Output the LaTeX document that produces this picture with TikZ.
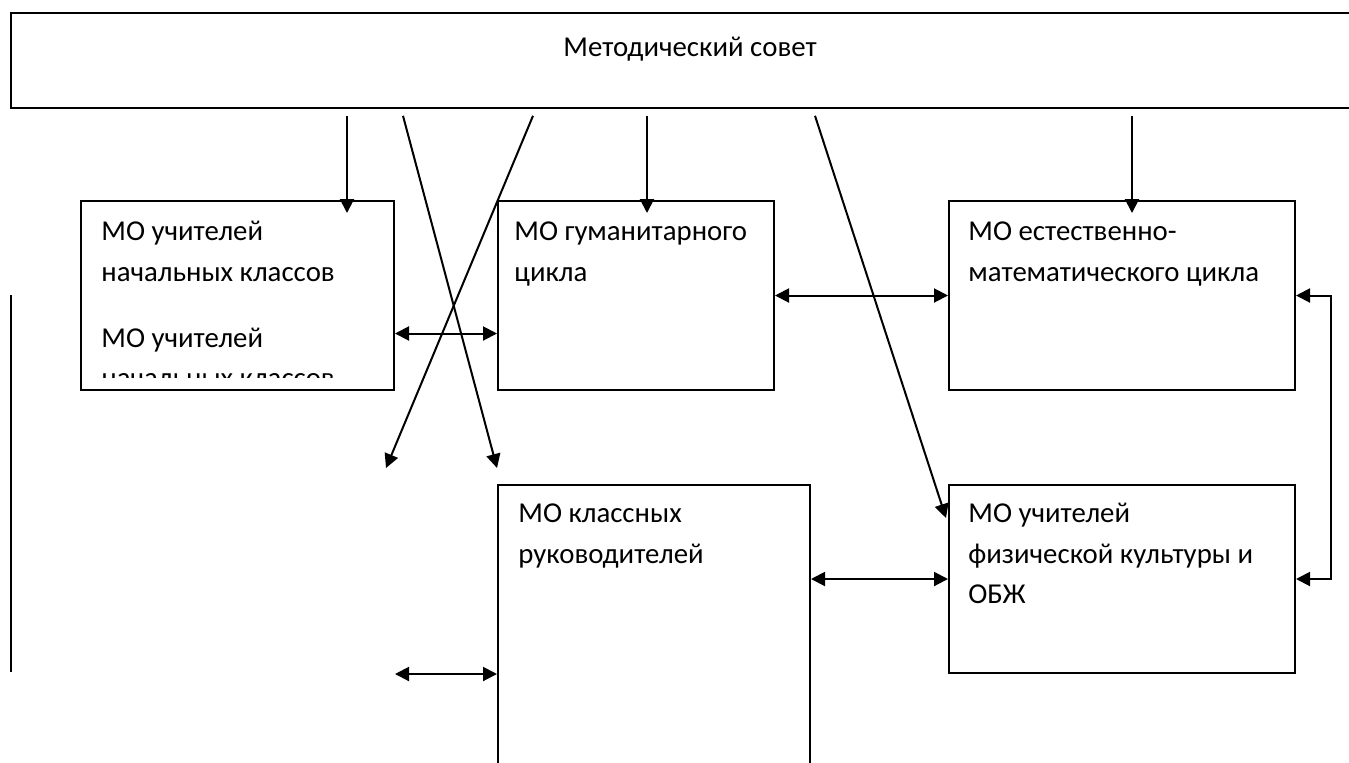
\documentclass[tikz,border=0pt]{standalone}
\usepackage{fontspec}
\setmainfont{Carlito}
\usetikzlibrary{positioning, calc, arrows.meta}

\tikzset{
  box/.style={draw, line width=1pt, inner sep=0pt, anchor=north west},
  txt/.style={anchor=base west, inner sep=0pt, font=\fontsize{14.4}{17}\selectfont},
  tip/.style={-{Triangle[length=7pt,width=7pt]}, line width=1pt},
  tips/.style={{Triangle[length=7pt,width=7pt]}-{Triangle[length=7pt,width=7pt]}, line width=1pt}
}

\begin{document}
\begin{tikzpicture}[x=0.5pt, y=-0.5pt]
  \clip (0,0) rectangle (1349,762);

  % Boxes
  \node[box, minimum width=680pt, minimum height=47.4pt] (sovet) at (10,12) {};
  \node[box, minimum width=156.5pt, minimum height=94.5pt] (nach) at (80,200) {};
  \node[box, minimum width=138pt, minimum height=94.5pt] (gum) at (497,200) {};
  \node[box, minimum width=173pt, minimum height=94.5pt] (est) at (948,200) {};
  \node[box, minimum width=156pt, minimum height=160pt] (klass) at (497,484) {};
  \node[box, minimum width=173pt, minimum height=94pt] (fiz) at (948,484) {};

  % Texts
  \node[txt, anchor=base] (sovettxt) at ($(sovet.north west)+(680,44)$) {Методический совет};
  \foreach \b/\dx/\dy/\t [count=\i] in {nach/21/40/МО учителей, nach/21/81/начальных классов, nach/21/147/МО учителей,
      gum/17/40/МО гуманитарного, gum/17/81/цикла,
      est/20/40/МО естественно-, est/20/81/математического цикла,
      klass/21/38/МО классных, klass/21/79/руководителей,
      fiz/20/38/МО учителей, fiz/20/79/физической культуры и, fiz/20/119/ОБЖ} {
    \node[txt] (t\i) at ($(\b.north west)+(\dx,\dy)$) {\t};
  }
  \begin{scope}
    \clip (nach.north west) rectangle ($(nach.north east)+(0,177)$);
    \node[txt] (tcut) at ($(nach.north west)+(21,187)$) {начальных классов};
  \end{scope}

  % Arrows from the council
  \draw[tip] ($(sovet.south west)+(337,7)$) -- ($(nach.north west)+(267,13)$);
  \draw[tip] ($(sovet.south west)+(637,7)$) -- ($(gum.north west)+(150,13)$);
  \draw[tip] ($(sovet.south west)+(1122,7)$) -- ($(est.north west)+(184,13)$);
  \draw[tip] ($(sovet.south west)+(393,7)$) -- ($(klass.north west)+(0,-16)$);
  \draw[tip] ($(sovet.south west)+(523,7)$) -- ($(klass.north west)+(-111,-16)$);
  \draw[tip] ($(sovet.south west)+(805,7)$) -- ($(fiz.north west)+(-2,34)$);

  % Links between the boxes
  \draw[tips] ($(nach.east)+(0,38)$) -- ($(gum.west)+(0,38)$);
  \draw[tips] (gum.east) -- (est.west);
  \draw[tips] (klass.east |- fiz.west) -- (fiz.west);
  \draw[tips] (nach.east |- fiz.south) -- (klass.west |- fiz.south);
  \draw[tips] (est.east) -- ++(35,0) |- (fiz.east);

  \draw[line width=1pt] (11,295) -- (11,672);
\end{tikzpicture}
\end{document}
